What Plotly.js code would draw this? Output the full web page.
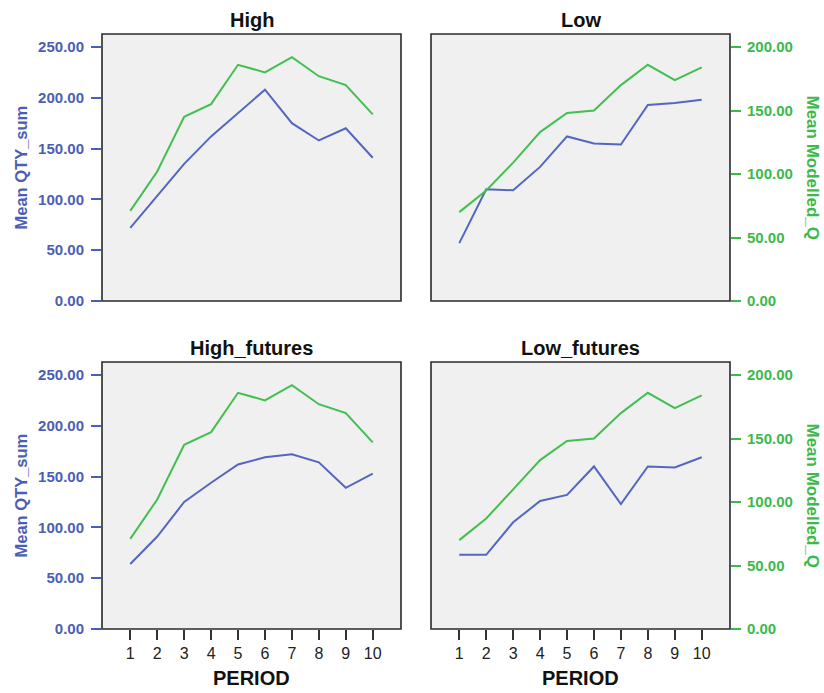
<!DOCTYPE html>
<html>
<head>
<meta charset="utf-8">
<script src="https://cdn.plot.ly/plotly-3.0.1.min.js"></script>
<style>html,body{margin:0;padding:0;background:#fff}#chart{width:824px;height:693px}</style>
</head>
<body>
<div id="chart"></div>
<script>
// ---- data ----
const periods = [1, 2, 3, 4, 5, 6, 7, 8, 9, 10];
const panelTitles = ["High", "Low", "High_futures", "Low_futures"];
const highQty      = [72, 103, 135, 162, 185, 208, 175, 158, 170, 141];
const highModel    = [71, 102, 145, 155, 186, 180, 192, 177, 170, 147];
const lowQty       = [57, 110, 109, 132, 162, 155, 154, 193, 195, 198];
const lowModel     = [70, 87, 109, 133, 148, 150, 170, 186, 174, 184];
const highFutQty   = [64, 91, 125, 144, 162, 169, 172, 164, 139, 153];
const highFutModel = [71, 102, 145, 155, 186, 180, 192, 177, 170, 147];
const lowFutQty    = [73, 73, 105, 126, 132, 160, 123, 160, 159, 169];
const lowFutModel  = [70, 87, 110, 133, 148, 150, 170, 186, 174, 184];
const leftTicks  = [0, 50, 100, 150, 200, 250];
const rightTicks = [0, 50, 100, 150, 200];
const leftTitle = "Mean QTY_sum";
const rightTitle = "Mean Modelled_Q";
const xTitle = "PERIOD";

// ---- styling ----
const W = 824, H = 693;
const BLUE_LINE = "#5366c0", GREEN_LINE = "#42bf50";
const BLUE_TXT = "#4b5eb6", GREEN_TXT = "#3cb94b";
const FONT = "Liberation Sans, Arial, sans-serif";
const colDom = [[102 / W, 401 / W], [431 / W, 730 / W]];
const rowDom = [[1 - 301 / H, 1 - 34 / H], [1 - 629 / H, 1 - 362 / H]];
const LEFT_MAX = 262.8, RIGHT_MAX = 210.25;

const qtySeries = [highQty, lowQty, highFutQty, lowFutQty];
const modelSeries = [highModel, lowModel, highFutModel, lowFutModel];

const traces = [];
const layout = {
  width: W, height: H,
  margin: {l: 0, r: 0, t: 0, b: 0},
  paper_bgcolor: "#ffffff",
  plot_bgcolor: "#f0f0f0",
  showlegend: false,
  font: {family: FONT},
  shapes: [],
  annotations: []
};

for (let p = 0; p < 4; p++) {
  const row = Math.floor(p / 2), col = p % 2;
  const xn = p + 1;
  const yl = 2 * p + 1, yr = 2 * p + 2;
  const xName = xn === 1 ? "x" : "x" + xn;
  const ylName = yl === 1 ? "y" : "y" + yl;
  const yrName = "y" + yr;
  const bottom = row === 1;

  layout["xaxis" + (xn === 1 ? "" : xn)] = {
    domain: colDom[col], anchor: ylName,
    range: [-0.05, 11.05], showgrid: false, zeroline: false, showline: false,
    tickmode: "array", tickvals: bottom ? periods : [],
    ticktext: bottom ? periods.map(String) : [],
    ticks: bottom ? "outside" : "", ticklen: 10, tickwidth: 2, tickcolor: "#333",
    showticklabels: bottom,
    tickfont: {family: FONT, size: 16, color: "#222"},
    fixedrange: true
  };
  layout["yaxis" + (yl === 1 ? "" : yl)] = {
    domain: rowDom[row], anchor: xName, side: "left",
    range: [0, LEFT_MAX], showgrid: false, zeroline: false, showline: false,
    visible: col === 0,
    tickmode: "array", tickvals: leftTicks, tickformat: ".2f",
    ticks: "outside", ticklen: 10, tickwidth: 2, tickcolor: BLUE_TXT,
    ticklabelstandoff: 4,
    tickfont: {family: FONT, size: 15, color: BLUE_TXT, weight: "bold"},
    fixedrange: true
  };
  layout["yaxis" + yr] = {
    overlaying: ylName, anchor: xName, side: "right",
    range: [0, RIGHT_MAX], showgrid: false, zeroline: false, showline: false,
    visible: col === 1,
    tickmode: "array", tickvals: rightTicks, tickformat: ".2f",
    ticks: "outside", ticklen: 10, tickwidth: 2, tickcolor: GREEN_TXT,
    ticklabelstandoff: 3,
    tickfont: {family: FONT, size: 15, color: GREEN_TXT, weight: "bold"},
    fixedrange: true
  };

  traces.push({
    x: periods, y: qtySeries[p], xaxis: xName, yaxis: ylName,
    type: "scatter", mode: "lines", line: {color: BLUE_LINE, width: 2},
    hoverinfo: "x+y"
  });
  traces.push({
    x: periods, y: modelSeries[p], xaxis: xName, yaxis: yrName,
    type: "scatter", mode: "lines", line: {color: GREEN_LINE, width: 2},
    hoverinfo: "x+y"
  });

  layout.shapes.push({
    type: "rect", xref: xName + " domain", yref: ylName + " domain",
    x0: 0, x1: 1, y0: 0, y1: 1, layer: "above",
    line: {color: "#2a2a2a", width: 1.6}
  });

  // panel title
  const cx = (colDom[col][0] + colDom[col][1]) / 2;
  layout.annotations.push({
    xref: "paper", yref: "paper", x: cx, y: rowDom[row][1],
    xanchor: "center", yanchor: "bottom", yshift: 1, showarrow: false,
    text: panelTitles[p],
    font: {family: FONT, size: 20, color: "#111", weight: "bold"}
  });
  // y titles
  const cy = (rowDom[row][0] + rowDom[row][1]) / 2;
  if (col === 0) {
    layout.annotations.push({
      xref: "paper", yref: "paper", x: 20 / W, y: cy,
      xanchor: "center", yanchor: "middle", textangle: -90, showarrow: false,
      text: leftTitle, font: {family: FONT, size: 16.5, color: BLUE_TXT, weight: "bold"}
    });
  } else {
    layout.annotations.push({
      xref: "paper", yref: "paper", x: 812 / W, y: cy,
      xanchor: "center", yanchor: "middle", textangle: 90, showarrow: false,
      text: rightTitle, font: {family: FONT, size: 17, color: GREEN_TXT, weight: "bold"}
    });
  }
  if (bottom) {
    layout.annotations.push({
      xref: "paper", yref: "paper", x: cx, y: 1 - 678 / H,
      xanchor: "center", yanchor: "middle", showarrow: false,
      text: xTitle, font: {family: FONT, size: 20, color: "#111", weight: "bold"}
    });
  }
}

Plotly.newPlot("chart", traces, layout, {displayModeBar: false, staticPlot: true});
</script>
</body>
</html>
